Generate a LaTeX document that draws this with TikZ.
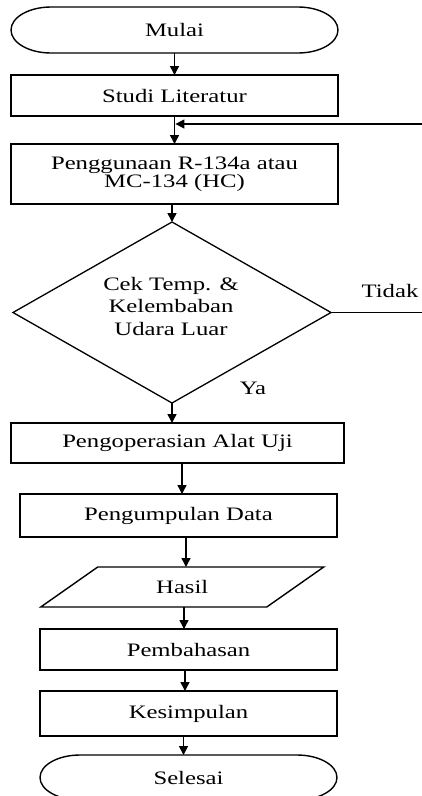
\documentclass[tikz,border=0pt]{standalone}
\usepackage{fontspec}
\setmainfont{Liberation Serif}[FakeStretch=1.3]
\usetikzlibrary{arrows.meta}
\begin{document}
\begin{tikzpicture}[x=1pt,y=1pt,
  every node/.style={inner sep=0pt, outer sep=0pt, font=\fontsize{19}{16}\selectfont},
  hold/.style={rectangle, draw=none, align=center},
  box/.style={rectangle, draw, line width=1.8pt, align=center},
  frame/.style={draw, line width=1.4pt},
  dframe/.style={draw, line width=1.3pt},
  arr/.style={line width=1.5pt, -{Triangle[length=9pt,width=9pt]}}
]
\useasboundingbox (0,0) rectangle (421,-796);

% start
\node[hold, minimum width=327, minimum height=46] (mulai) at (174.5,-30) {Mulai};
\draw[frame] ([xshift=40]mulai.north west) -- ([xshift=-40]mulai.north east)
  arc[start angle=90,end angle=-90,x radius=40,y radius=23]
  -- ([xshift=40]mulai.south west)
  arc[start angle=270,end angle=90,x radius=40,y radius=23] -- cycle;

\node[box, minimum width=327, minimum height=41] (studi) at (174.5,-95.5) {Studi Literatur};
\node[box, minimum width=327, minimum height=60] (peng) at (174.5,-174) {Penggunaan R-134a atau\\MC-134 (HC)};

% decision
\node[hold, minimum width=318, minimum height=181] (dia) at (172,-312.5) {};
\draw[dframe] (dia.north) -- (dia.east) -- (dia.south) -- (dia.west) -- cycle;
\node[hold, font=\fontsize{19}{22.5}\selectfont] (diatext) at (171,-306) {Cek Temp. \&\\Kelembaban\\Udara Luar};

\node[box, minimum width=333, minimum height=40] (pengop) at (177.5,-443) {Pengoperasian Alat Uji};
\node[box, minimum width=317, minimum height=43] (pengump) at (178.5,-515.5) {Pengumpulan Data};

% output
\node[hold, minimum width=226, minimum height=40] (hasil) at (182.25,-587) {Hasil};
\draw[frame] ([xshift=28.5]hasil.north west) -- ([xshift=28.5]hasil.north east)
  -- ([xshift=-28.5]hasil.south east) -- ([xshift=-28.5]hasil.south west) -- cycle;

\node[box, minimum width=297, minimum height=41] (pemb) at (188.5,-649.5) {Pembahasan};
\node[box, minimum width=297, minimum height=45] (kes) at (188.5,-713.5) {Kesimpulan};

% end
\node[hold, minimum width=297, minimum height=45] (selesai) at (188.5,-777.5) {Selesai};
\draw[frame] ([xshift=40]selesai.north west) -- ([xshift=-40]selesai.north east)
  arc[start angle=90,end angle=-90,x radius=40,y radius=22.5]
  -- ([xshift=40]selesai.south west)
  arc[start angle=270,end angle=90,x radius=40,y radius=22.5] -- cycle;

% labels
\node (tidak) at (390,-291) {Tidak};
\node (ya) at (253,-388) {Ya};

% connectors
\coordinate (jn) at (175.4,-124);
\coordinate (edge) at (424,0);
\draw[arr] (mulai.south) -- (studi.north);
\draw[arr] (studi.south) -- (peng.north);
\draw[arr] ([xshift=-2.5]peng.south) -- (dia.north);
\draw[arr] (dia.south) -- ([xshift=-5.5]pengop.north);
\draw[arr] ([xshift=4.5]pengop.south) -- ([xshift=3.5]pengump.north);
\draw[arr] ([xshift=7.5]pengump.south) -- ([xshift=3.75]hasil.north);
\draw[arr] ([xshift=1.75]hasil.south) -- ([xshift=-4.5]pemb.north);
\draw[arr] ([xshift=-3.5]pemb.south) -- ([xshift=-3.5]kes.north);
\draw[arr] ([xshift=-5]kes.south) -- ([xshift=-5]selesai.north);
\draw[arr] (dia.east) -- (dia.east -| edge) |- (jn);
\end{tikzpicture}
\end{document}
